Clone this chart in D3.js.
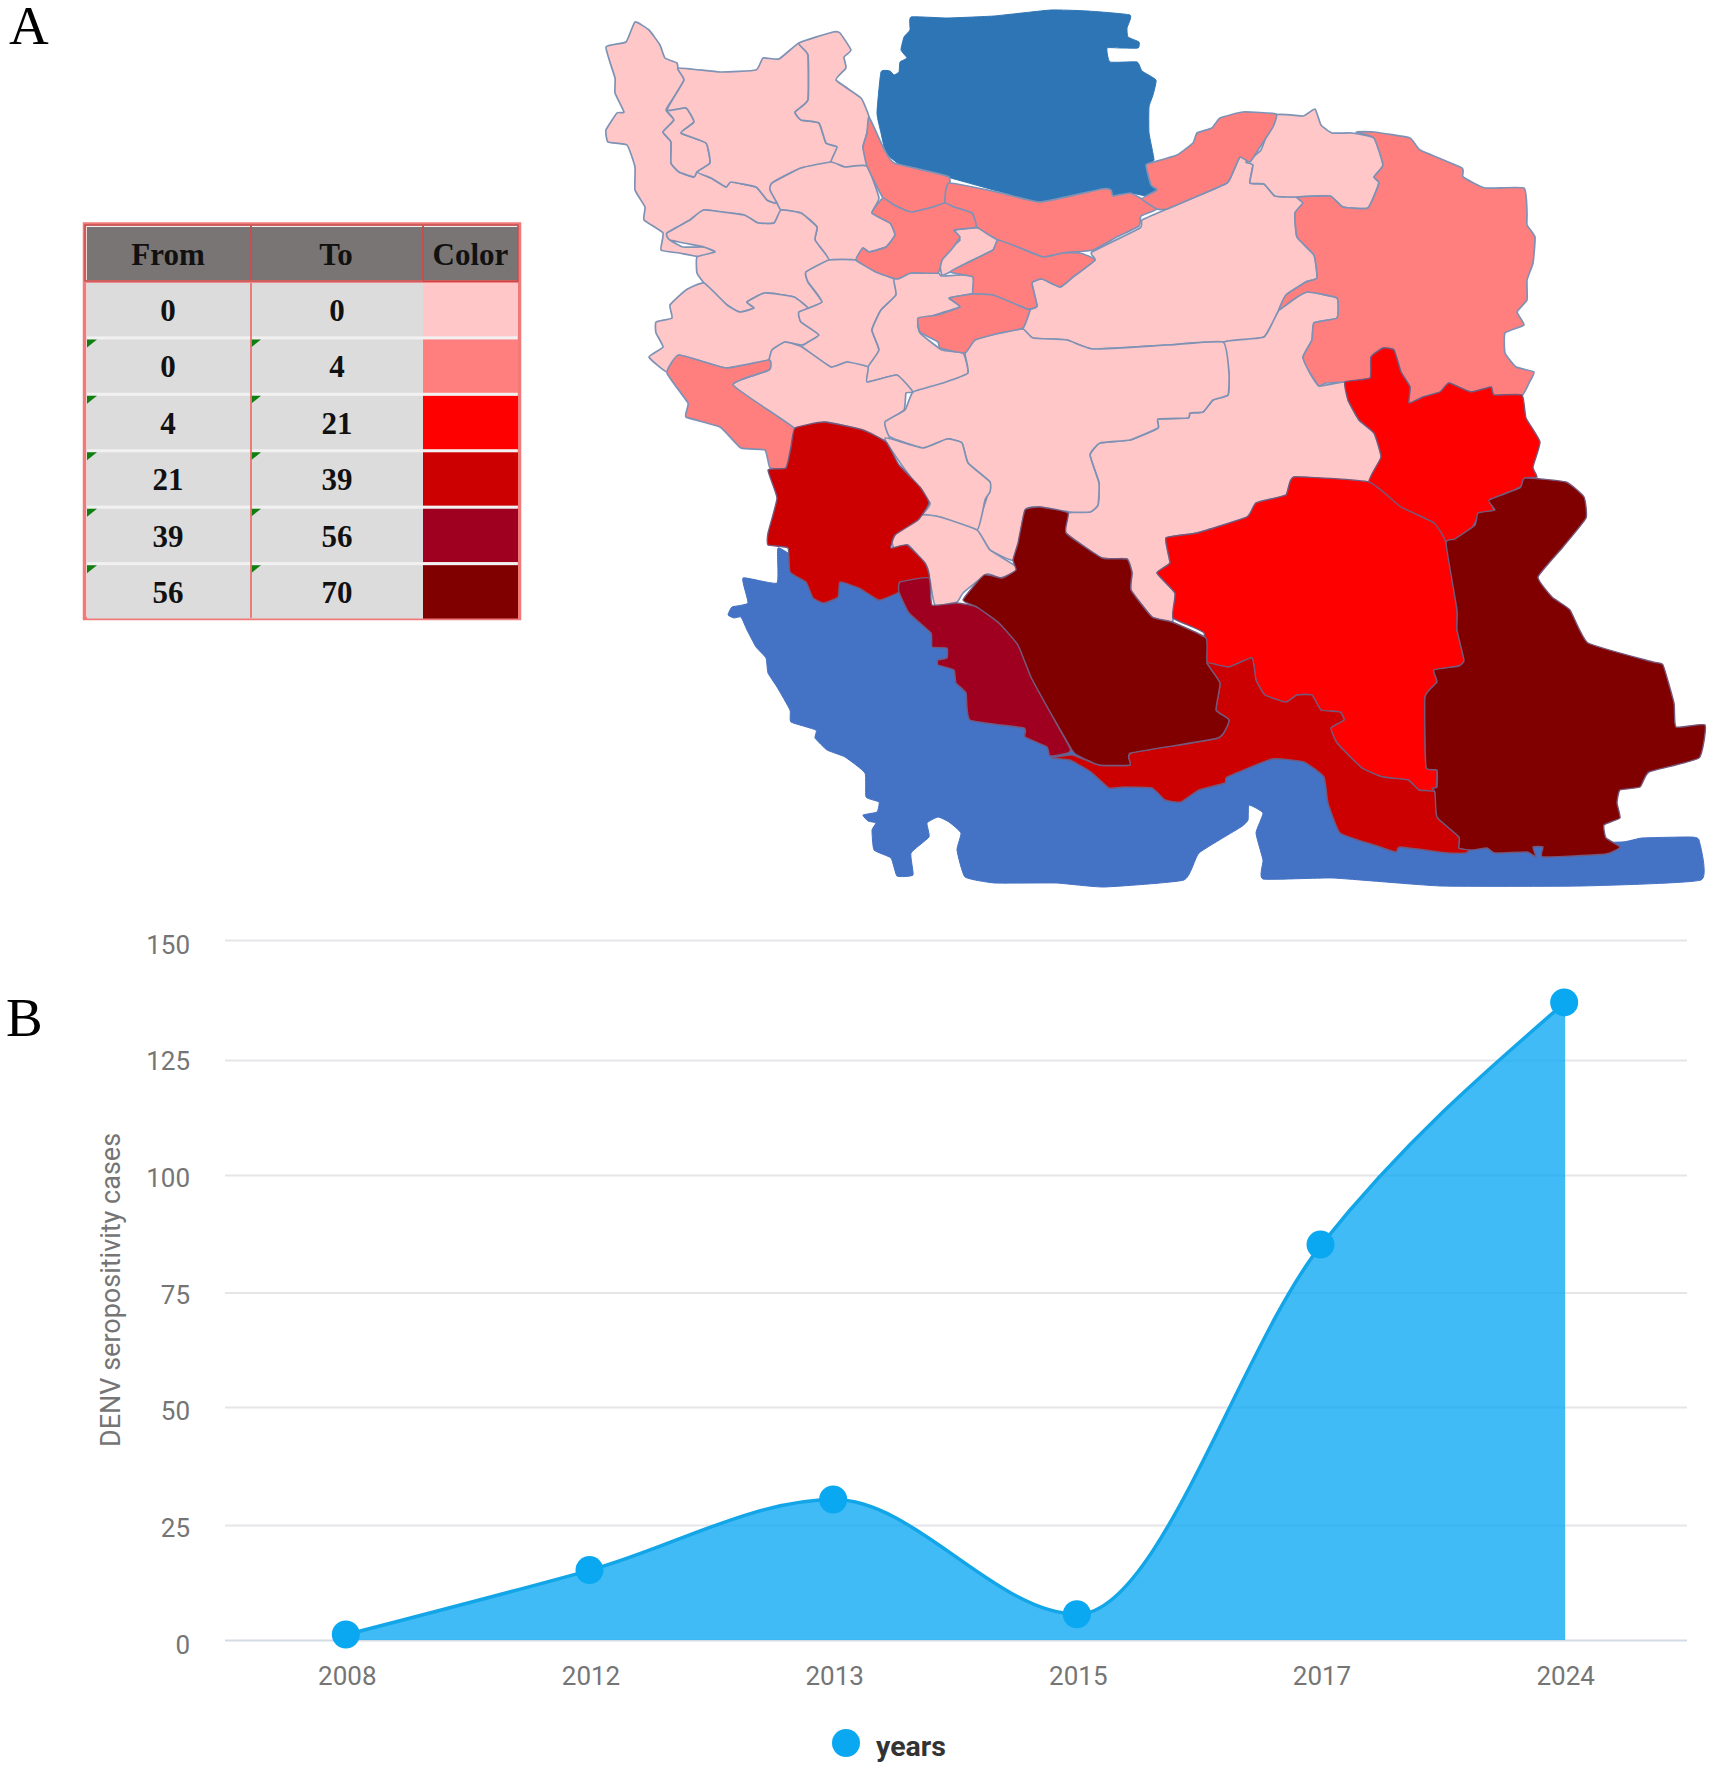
<!DOCTYPE html>
<html>
<head>
<meta charset="utf-8">
<title>DENV seropositivity in Iran</title>
<script src="https://cdn.jsdelivr.net/npm/d3@7"></script>
<style>
  html, body { margin: 0; padding: 0; background: #fff; }
  svg { display: block; }
</style>
</head>
<body>
<div id="chart-container"></div>
<script>
// legend table of panel A
const tableHeaders = ["From", "To", "Color"];
const binFrom = [0, 0, 4, 21, 39, 56];
const binTo = [0, 4, 21, 39, 56, 70];
const binColors = ["#ffc7c7", "#ff7f7f", "#ff0000", "#cc0000", "#a00020", "#800000"];

// panel B series
const years = ["2008", "2012", "2013", "2015", "2017", "2024"];
const cases = [1.2, 15.2, 30.4, 5.6, 85.2, 137];
const yTicks = [0, 25, 50, 75, 100, 125, 150];

// map outlines, in map units. bin = index into binColors
const caspian = [[911,17],[947,18],[994,16],[1051,10],[1087,11],[1130,15],[1127,28],[1128,37],[1139,42],[1138,48],[1120,48],[1107,48],[1110,62],[1137,62],[1142,71],[1156,80],[1153,95],[1149,107],[1149,133],[1154,160],[1146,165],[1151,185],[1157,190],[1152,197],[1130,193],[1112,196],[1102,189],[1063,197],[1040,202],[1001,192],[947,177],[901,165],[886,153],[881,133],[877,113],[881,72],[890,71],[894,75],[899,72],[900,62],[907,58],[901,50],[904,37],[910,30]];
const gulf = [[778,548],[777,583],[743,578],[748,603],[732,607],[728,615],[734,618],[741,617],[747,630],[756,647],[766,658],[768,673],[777,687],[790,710],[791,722],[816,730],[815,738],[827,750],[845,757],[865,773],[866,797],[879,802],[877,812],[863,815],[868,821],[876,823],[872,830],[874,850],[891,858],[897,876],[913,875],[911,853],[929,837],[927,823],[938,817],[949,822],[961,833],[957,850],[965,877],[995,883],[1056,883],[1104,887],[1184,880],[1199,853],[1241,827],[1248,820],[1249,805],[1263,813],[1256,833],[1263,860],[1263,879],[1333,878],[1441,886],[1581,886],[1701,880],[1699,840],[1690,837],[1642,838],[1622,842],[1560,840],[1440,780],[1300,720],[1200,730],[1000,640],[850,570],[800,560]];

const provinces = [
  ["West Azerbaijan", 0, [[635,22],[649,30],[660,45],[665,58],[677,63],[678,68],[684,80],[674,97],[666,110],[674,120],[663,132],[671,142],[671,163],[679,172],[694,177],[697,172],[711,178],[726,187],[731,182],[756,187],[767,200],[777,203],[781,210],[774,223],[758,223],[744,215],[726,213],[704,210],[690,220],[667,233],[670,240],[683,247],[704,247],[715,252],[701,257],[679,253],[661,250],[663,233],[644,220],[645,207],[635,190],[635,167],[627,145],[608,142],[606,130],[617,113],[624,112],[615,93],[615,78],[606,47],[626,42]]],
  ["Urmia", 0, [[667,110],[686,108],[694,122],[681,133],[706,143],[710,163],[697,172],[694,177],[679,172],[671,163],[671,142],[663,132],[674,120]]],
  ["East Azerbaijan", 0, [[678,68],[720,72],[756,70],[763,58],[779,59],[799,43],[808,55],[808,100],[795,112],[801,120],[819,123],[826,143],[837,147],[831,162],[801,168],[772,183],[777,203],[767,200],[756,187],[731,182],[726,187],[711,178],[697,172],[710,163],[706,143],[681,133],[694,122],[686,108],[667,110],[684,80]]],
  ["Ardabil", 0, [[799,43],[833,32],[840,33],[851,50],[844,57],[846,68],[836,80],[861,98],[869,117],[867,133],[863,147],[867,166],[845,167],[831,162],[837,147],[826,143],[819,123],[801,120],[795,112],[808,100],[808,55]]],
  ["Zanjan", 0, [[772,183],[801,168],[831,162],[845,167],[867,166],[879,198],[872,213],[890,223],[895,235],[886,247],[869,252],[863,248],[856,260],[829,260],[815,240],[817,227],[801,213],[781,210],[777,203],[770,190]]],
  ["Kurdistan", 0, [[781,210],[801,213],[817,227],[815,240],[829,260],[806,272],[808,282],[822,302],[808,308],[794,297],[765,293],[747,302],[754,308],[740,312],[727,305],[704,283],[697,273],[697,257],[715,252],[704,247],[670,240],[667,233],[690,220],[704,210],[744,215],[758,223],[774,223]]],
  ["Kermanshah", 0, [[704,283],[727,305],[740,312],[754,308],[747,302],[765,293],[794,297],[808,308],[799,312],[801,322],[819,335],[802,345],[785,342],[772,350],[769,360],[726,368],[679,355],[667,372],[649,357],[663,347],[656,333],[656,322],[672,318],[670,305],[686,290]]],
  ["Hamadan", 0, [[829,260],[856,260],[876,272],[894,279],[896,295],[881,310],[872,330],[879,350],[868,367],[847,362],[831,367],[802,347],[819,335],[801,322],[799,312],[822,302],[808,282],[806,272]]],
  ["Markazi", 0, [[894,279],[911,273],[938,273],[942,276],[972,275],[973,293],[949,298],[960,307],[919,320],[920,333],[942,350],[963,353],[967,375],[913,392],[897,375],[867,382],[868,367],[879,350],[872,330],[881,310],[896,295]]],
  ["Lorestan", 0, [[733,385],[769,370],[769,360],[772,350],[785,342],[802,347],[831,367],[847,362],[868,367],[867,382],[897,375],[913,392],[906,393],[904,410],[885,423],[890,437],[883,440],[861,430],[826,422],[794,428]]],
  ["Alborz", 0, [[955,230],[977,228],[998,235],[993,250],[973,260],[950,272],[942,275],[940,263],[950,248],[960,240]]],
  ["Semnan", 0, [[1142,220],[1167,209],[1193,198],[1227,183],[1233,172],[1240,157],[1250,162],[1253,165],[1250,183],[1264,184],[1275,196],[1297,197],[1303,203],[1295,213],[1297,237],[1314,255],[1317,278],[1306,282],[1286,295],[1279,310],[1264,337],[1224,342],[1167,345],[1093,349],[1067,340],[1033,338],[1023,329],[1030,310],[1037,306],[1032,283],[1042,279],[1060,287],[1073,277],[1095,260],[1092,252],[1140,228]]],
  ["North Khorasan", 0, [[1275,115],[1303,116],[1315,109],[1321,125],[1332,133],[1352,133],[1374,138],[1383,165],[1374,177],[1379,183],[1368,208],[1343,207],[1330,196],[1297,197],[1275,196],[1264,184],[1250,183],[1253,165],[1246,162],[1261,150]]],
  ["Yazd", 0, [[1224,342],[1264,337],[1279,310],[1297,297],[1308,292],[1337,298],[1337,318],[1314,323],[1312,340],[1303,357],[1310,373],[1319,386],[1345,382],[1348,400],[1359,420],[1374,433],[1381,457],[1369,482],[1294,477],[1286,495],[1256,503],[1247,517],[1197,533],[1166,538],[1170,563],[1157,573],[1175,593],[1173,618],[1172,622],[1152,617],[1131,590],[1132,573],[1127,559],[1102,558],[1066,533],[1068,513],[1090,512],[1098,505],[1099,483],[1090,455],[1100,443],[1130,440],[1158,428],[1158,419],[1188,418],[1190,413],[1203,412],[1213,400],[1228,395],[1229,373]]],
  ["Isfahan", 0, [[1223,342],[1167,345],[1093,349],[1067,340],[1033,338],[1023,329],[1000,333],[975,340],[965,353],[968,373],[943,383],[913,392],[905,410],[885,422],[890,437],[923,448],[947,439],[962,443],[968,463],[990,482],[987,497],[977,530],[990,550],[1015,560],[1025,510],[1040,507],[1070,512],[1090,512],[1098,505],[1099,483],[1090,455],[1100,443],[1130,440],[1158,428],[1158,419],[1188,418],[1190,413],[1203,412],[1213,400],[1228,395],[1229,373]]],
  ["Chaharmahal", 0, [[885,438],[923,448],[947,439],[962,443],[968,463],[990,482],[990,492],[985,500],[977,530],[940,517],[922,515],[930,503],[903,467]]],
  ["Kohgiluyeh", 0, [[922,515],[940,517],[977,530],[990,550],[1017,567],[1013,573],[1000,578],[987,574],[963,593],[957,602],[935,605],[930,580],[927,567],[908,545],[895,550],[892,542],[897,532]]],
  ["Gilan", 1, [[869,117],[883,147],[894,163],[949,177],[945,203],[933,207],[911,212],[894,205],[883,198],[867,166],[863,147],[867,133]]],
  ["Mazandaran", 1, [[949,183],[1001,193],[1040,202],[1102,189],[1111,190],[1113,196],[1130,193],[1142,199],[1157,209],[1141,216],[1139,226],[1115,238],[1093,250],[1063,253],[1043,257],[1020,248],[998,240],[977,227],[972,213],[954,207],[945,203]]],
  ["Golestan", 1, [[1146,165],[1154,162],[1177,155],[1193,143],[1197,133],[1212,128],[1220,118],[1243,112],[1276,114],[1273,127],[1260,147],[1250,162],[1240,157],[1233,172],[1227,183],[1193,198],[1167,209],[1157,209],[1142,199],[1157,190],[1151,185]]],
  ["Qazvin", 1, [[872,213],[883,198],[894,205],[911,212],[933,207],[945,203],[954,207],[972,213],[976,227],[954,230],[960,237],[951,250],[942,260],[938,273],[911,273],[897,279],[876,272],[856,260],[863,248],[869,252],[886,247],[895,235],[890,223]]],
  ["Tehran", 1, [[950,272],[973,260],[993,250],[998,240],[1020,248],[1043,257],[1063,253],[1080,253],[1095,260],[1073,277],[1060,287],[1042,279],[1032,283],[1037,306],[1027,309],[993,295],[973,294],[973,277]]],
  ["Qom", 1, [[950,298],[973,294],[993,295],[1027,309],[1030,310],[1023,328],[1000,333],[975,340],[965,353],[940,348],[938,342],[920,332],[918,318],[937,315],[960,307]]],
  ["Ilam", 1, [[667,373],[679,355],[726,368],[769,360],[769,370],[733,385],[794,428],[791,447],[786,468],[770,468],[765,450],[741,448],[720,427],[686,417],[688,403]]],
  ["Razavi Khorasan", 1, [[1356,132],[1374,132],[1410,138],[1420,150],[1462,168],[1463,177],[1485,188],[1524,188],[1527,213],[1527,225],[1535,237],[1533,263],[1527,280],[1527,300],[1517,312],[1524,325],[1505,333],[1505,353],[1516,367],[1534,372],[1529,383],[1522,395],[1494,395],[1491,387],[1471,392],[1449,383],[1440,392],[1423,397],[1409,403],[1410,387],[1401,372],[1394,350],[1383,348],[1371,357],[1370,378],[1345,382],[1326,383],[1319,386],[1310,373],[1303,357],[1312,340],[1314,323],[1337,318],[1337,298],[1308,292],[1297,297],[1279,310],[1286,295],[1306,282],[1317,278],[1314,255],[1297,237],[1295,213],[1303,203],[1297,197],[1330,196],[1343,207],[1368,208],[1379,183],[1374,177],[1383,165],[1374,138]]],
  ["South Khorasan", 2, [[1345,382],[1370,378],[1371,357],[1383,348],[1394,350],[1401,372],[1410,387],[1409,403],[1423,397],[1440,392],[1449,383],[1471,392],[1491,387],[1494,395],[1522,395],[1526,418],[1540,442],[1533,467],[1537,477],[1524,478],[1520,487],[1491,500],[1494,512],[1478,517],[1471,530],[1455,542],[1446,546],[1434,523],[1401,507],[1369,482],[1381,457],[1374,433],[1359,420],[1348,400]]],
  ["Kerman", 2, [[1166,538],[1170,563],[1157,573],[1175,593],[1173,618],[1204,633],[1207,665],[1229,667],[1252,658],[1256,680],[1265,695],[1286,702],[1297,695],[1312,695],[1321,710],[1340,712],[1344,720],[1331,728],[1337,743],[1362,768],[1383,777],[1408,780],[1419,790],[1435,792],[1437,770],[1426,767],[1425,697],[1437,682],[1434,670],[1459,666],[1464,660],[1457,630],[1457,610],[1446,543],[1434,523],[1401,507],[1369,482],[1294,477],[1286,495],[1256,503],[1247,517],[1197,533]]],
  ["Khuzestan", 3, [[795,428],[824,422],[863,430],[886,442],[899,465],[920,487],[929,503],[918,520],[895,535],[891,548],[907,545],[925,563],[929,578],[902,582],[899,592],[879,600],[859,588],[840,582],[838,597],[824,603],[813,598],[806,582],[790,572],[788,548],[768,545],[768,533],[777,498],[768,470],[786,468],[791,447]]],
  ["Hormozgan", 3, [[1052,758],[1072,755],[1099,765],[1130,765],[1131,753],[1218,738],[1229,720],[1216,710],[1220,683],[1207,663],[1229,667],[1252,658],[1256,680],[1265,695],[1286,702],[1297,695],[1312,695],[1321,710],[1340,712],[1344,720],[1331,728],[1337,743],[1362,768],[1383,777],[1408,780],[1419,790],[1435,792],[1437,817],[1459,837],[1459,848],[1470,848],[1466,853],[1448,853],[1400,847],[1396,852],[1374,845],[1340,833],[1328,803],[1324,777],[1304,762],[1272,759],[1227,777],[1225,783],[1199,790],[1181,802],[1165,800],[1152,788],[1124,787],[1109,788],[1091,772],[1070,760]]],
  ["Bushehr", 4, [[900,582],[929,578],[932,605],[957,603],[977,607],[999,623],[1018,645],[1031,677],[1049,710],[1070,748],[1068,753],[1050,756],[1047,747],[1025,737],[1024,728],[970,720],[966,693],[956,683],[954,670],[938,665],[938,660],[947,658],[947,648],[932,647],[931,633],[909,613],[899,592]]],
  ["Fars", 5, [[963,600],[984,575],[1002,578],[1016,570],[1013,560],[1018,543],[1025,510],[1040,507],[1068,513],[1066,533],[1102,558],[1127,559],[1132,573],[1131,590],[1152,617],[1172,622],[1206,638],[1207,663],[1220,683],[1216,710],[1229,720],[1218,738],[1131,753],[1130,765],[1099,765],[1077,755],[1072,750],[1049,710],[1031,677],[1018,645],[999,623],[977,607]]],
  ["Sistan and Baluchestan", 5, [[1525,478],[1566,482],[1584,497],[1586,518],[1563,547],[1538,577],[1552,597],[1570,610],[1588,643],[1653,662],[1663,665],[1674,703],[1676,727],[1705,725],[1699,758],[1649,772],[1640,787],[1620,790],[1617,803],[1620,818],[1604,825],[1606,838],[1620,847],[1606,854],[1543,857],[1543,847],[1533,847],[1536,857],[1527,852],[1495,853],[1487,848],[1471,850],[1459,848],[1459,837],[1437,817],[1435,792],[1432,788],[1437,787],[1437,770],[1426,767],[1425,697],[1437,682],[1434,670],[1459,666],[1464,660],[1457,630],[1457,610],[1446,543],[1455,539],[1475,525],[1478,513],[1495,510],[1489,500],[1520,488]]]
];

const svg = d3.select("#chart-container").append("svg")
  .attr("width", 1713)
  .attr("height", 1782);

// panel letters
svg.append("text").attr("x", 9).attr("y", 44).text("A")
  .attr("font-family", "Liberation Serif").attr("font-size", 55).attr("fill", "#000");
svg.append("text").attr("x", 6).attr("y", 1036).text("B")
  .attr("font-family", "Liberation Serif").attr("font-size", 55).attr("fill", "#000");

// ---- map ----
const mapLine = d3.line().curve(d3.curveCardinalClosed.tension(0.6));
const map = svg.append("g");

map.append("path").attr("d", mapLine(caspian)).attr("fill", "#2e75b6").attr("stroke", "#2e75b6");
map.append("path").attr("d", mapLine(gulf)).attr("fill", "#4472c4").attr("stroke", "#4472c4");

map.selectAll(".province")
  .data(provinces)
  .join("path")
    .attr("class", "province")
    .attr("d", d => mapLine(d[2]))
    .attr("fill", d => binColors[d[1]])
    .attr("stroke", d => d[1] < 2 ? "#7d92b5" : "#75587a")
    .attr("stroke-width", d => d[1] < 2 ? 1.7 : 1.4)
    .attr("stroke-linejoin", "round");

// ---- legend table ----
const table = svg.append("g");
const colEdges = [87, 251, 423, 518];
const rowY = d3.scaleBand().domain(d3.range(binFrom.length)).range([283, 618.5]).paddingInner(0.055).paddingOuter(0);
const tableFont = text => text
  .attr("font-family", "Liberation Serif")
  .attr("font-weight", "bold")
  .attr("font-size", 31)
  .attr("text-anchor", "middle")
  .attr("fill", "#111");

table.append("rect").attr("x", 84.5).attr("y", 224).attr("width", 435).attr("height", 394.5)
  .attr("fill", "#f2f0f0").attr("stroke", "#f07a7a").attr("stroke-width", 3.5);

table.selectAll(".head")
  .data(tableHeaders)
  .join("rect")
    .attr("class", "head")
    .attr("x", (d, i) => colEdges[i])
    .attr("y", 227)
    .attr("width", (d, i) => colEdges[i + 1] - colEdges[i])
    .attr("height", 53)
    .attr("fill", "#787574");
table.selectAll(".head-label")
  .data(tableHeaders)
  .join("text")
    .attr("class", "head-label")
    .attr("x", (d, i) => (colEdges[i] + colEdges[i + 1]) / 2 - (i === 2 ? 0 : 1))
    .attr("y", 265)
    .text(d => d)
    .call(tableFont);

const rows = table.selectAll(".row")
  .data(binFrom.map((d, i) => ({ from: d, to: binTo[i], color: binColors[i], i })))
  .join("g")
    .attr("class", "row")
    .attr("transform", d => `translate(0,${rowY(d.i)})`);

rows.append("rect").attr("x", colEdges[0]).attr("width", colEdges[2] - colEdges[0])
  .attr("height", rowY.bandwidth()).attr("fill", "#dcdcdc");
rows.append("rect").attr("x", colEdges[2]).attr("width", colEdges[3] - colEdges[2])
  .attr("height", rowY.bandwidth()).attr("fill", d => d.color);
rows.append("text").attr("x", 168).attr("y", 38).text(d => d.from).call(tableFont);
rows.append("text").attr("x", 337).attr("y", 38).text(d => d.to).call(tableFont);

// little green error flags, every row but the first
[colEdges[0], colEdges[1]].forEach(cx => {
  rows.filter(d => d.i > 0).append("path")
    .attr("d", `M${cx},0h10l-10,8z`)
    .attr("fill", "#0f7f0f");
});

table.append("line").attr("x1", 251).attr("x2", 251).attr("y1", 283).attr("y2", 618)
  .attr("stroke", "#ee7070").attr("stroke-width", 1.8);
table.append("line").attr("x1", 251).attr("x2", 251).attr("y1", 226).attr("y2", 281)
  .attr("stroke", "#c25050").attr("stroke-width", 2);
table.append("line").attr("x1", 423).attr("x2", 423).attr("y1", 226).attr("y2", 281)
  .attr("stroke", "#c25050").attr("stroke-width", 2);
table.append("line").attr("x1", 84).attr("x2", 423).attr("y1", 281.5).attr("y2", 281.5)
  .attr("stroke", "#f08a8a").attr("stroke-width", 3);
table.append("line").attr("x1", 423).attr("x2", 518).attr("y1", 281.5).attr("y2", 281.5)
  .attr("stroke", "#f02020").attr("stroke-width", 2);
table.append("rect").attr("x", 85).attr("y", 225).attr("width", 433).attr("height", 56)
  .attr("fill", "none").attr("stroke", "#c25050").attr("stroke-width", 1.5);

// ---- area chart ----
const x = d3.scalePoint().domain(years).range([225, 1687]).padding(0.5);
// the figure is a slightly uneven raster, so the gridlines are not evenly spaced
const y = d3.scaleLinear().domain(yTicks).range([1640, 1525, 1407, 1292.5, 1175, 1060, 940]);
const yLabel = d3.scaleLinear().domain([0, 150]).range([1640, 940]);
const chart = svg.append("g");

const yGrid = chart.append("g")
  .attr("transform", "translate(225,0)")
  .call(d3.axisRight(y).tickValues(yTicks).tickSize(1462).tickFormat(""));
yGrid.select(".domain").remove();
yGrid.selectAll(".tick line").attr("stroke", d => d === 0 ? "#d3dbe6" : "#e6e6e9").attr("stroke-width", 2);

const yAxis = chart.append("g")
  .attr("transform", "translate(190,0)")
  .call(d3.axisLeft(yLabel).tickValues(yTicks).tickSize(0).tickPadding(0));
yAxis.select(".domain").remove();
yAxis.selectAll(".tick text")
  .attr("dy", "0.5em")
  .attr("font-family", "Roboto").attr("font-size", 26).attr("fill", "#757575");

const xAxis = chart.append("g")
  .attr("transform", "translate(0,1640)")
  .call(d3.axisBottom(x).tickSize(0).tickPadding(0));
xAxis.select(".domain").remove();
xAxis.selectAll(".tick text")
  .attr("y", 45).attr("dy", 0)
  .attr("font-family", "Roboto").attr("font-size", 26).attr("fill", "#757575");

const points = years.map((d, i) => ({ year: d, value: cases[i] }));
const curve = d3.curveMonotoneX;
chart.append("path")
  .attr("d", d3.area().curve(curve).x(d => x(d.year)).y0(y(0)).y1(d => y(d.value))(points))
  .attr("fill", "#0ca8f3").attr("opacity", 0.78);
chart.append("path")
  .attr("d", d3.line().curve(curve).x(d => x(d.year)).y(d => y(d.value))(points))
  .attr("fill", "none").attr("stroke", "#12a5e8").attr("stroke-width", 3.5);
chart.selectAll(".dot")
  .data(points)
  .join("circle")
    .attr("class", "dot")
    .attr("cx", d => x(d.year) - 1)
    .attr("cy", d => y(d.value))
    .attr("r", 14)
    .attr("fill", "#0aa8f0");

chart.append("text")
  .attr("transform", "translate(120,1290) rotate(-90)")
  .attr("text-anchor", "middle")
  .attr("font-family", "Roboto").attr("font-size", 27).attr("fill", "#757575")
  .text("DENV seropositivity cases");

chart.append("circle").attr("cx", 846).attr("cy", 1743).attr("r", 14).attr("fill", "#0aa8f0");
chart.append("text").attr("x", 876).attr("y", 1756).text("years")
  .attr("font-family", "Roboto").attr("font-weight", "bold").attr("font-size", 28.5).attr("fill", "#333");
</script>
</body>
</html>
